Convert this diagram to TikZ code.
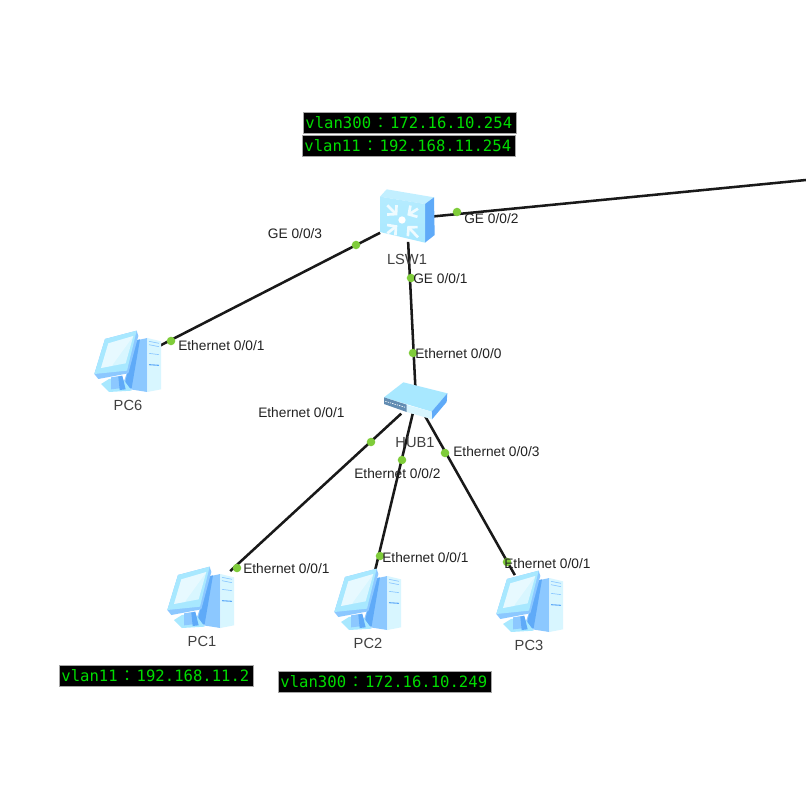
\documentclass[tikz,border=0pt]{standalone}
\usepackage{fontspec}
\setmainfont{Liberation Sans}
\newfontfamily\monof{DejaVu Sans Mono}
\newfontfamily\cjkf{Noto Sans CJK TC}
\usetikzlibrary{calc,arrows.meta}
\definecolor{dotg}{HTML}{7FCC3A}
\definecolor{pale}{HTML}{D8F6FF}
\definecolor{lite}{HTML}{A8E8FF}
\definecolor{midb}{HTML}{8CC8FF}
\definecolor{deep}{HTML}{5FAAF8}
\definecolor{ink}{HTML}{222222}
\definecolor{taggreen}{HTML}{00DD00}
\newcommand{\fwc}{\makebox[14.2pt][c]{\cjkf ：}}
\tikzset{
  x=0.75pt,y=-0.75pt,
  link/.style={draw=black!90,line width=1.9pt},
  dot/.style={circle,fill=dotg,inner sep=0pt,minimum size=6.4pt},
  port/.style={font=\fontsize{10.3pt}{12pt}\selectfont,text=ink,inner sep=0pt,yshift=-0.75pt},
  devname/.style={font=\fontsize{11pt}{13pt}\selectfont,text=black!75,inner sep=0pt},
  tag/.style={fill=black,draw=black!35,line width=0.6pt,text=taggreen,inner sep=0pt,
    font=\monof\fontsize{11.7pt}{13pt}\selectfont,minimum height=16pt,anchor=west},
  devbox/.style={inner sep=0pt,rectangle},
  pcbox/.style={devbox,minimum width=48pt,minimum height=40pt},
  swarrow/.style={pale!40!white,line width=2pt,line join=miter,-{Straight Barb[length=4.5pt,width=10pt,line width=2pt]}},
  pc/.pic={
    \begin{scope}[shift={(-43,-38)},scale=1/3]
      % tower
      \fill[midb] (150,50)--(187,42)--(187,204)--(110,192)--(128,140)--cycle;
      \fill[deep] (150,50)--(165,46)--(140,192)--(118,190)--(128,140)--cycle;
      \fill[pale] (187,42)--(228,52)--(228,196)--(187,204)--cycle;
      \draw[midb,line width=0.5pt] (192,52)--(222,58) (192,62)--(222,68) (192,88)--(222,92);
      \draw[deep,line width=0.8pt] (192,122)--(222,124);
      % stand and base
      \fill[lite] (48,180)--(72,165)--(110,160)--(140,200)--(72,204)--cycle;
      \fill[midb] (78,160)--(110,155)--(114,192)--(78,196)--cycle;
      \fill[deep] (100,158)--(112,155)--(122,196)--(104,198)--cycle;
      % monitor
      \fill[midb] (60,45)--(155,20)--(160,36)--(130,148)--(40,165)--(28,150)--cycle;
      \fill[lite] (60,45)--(155,20)--(126,140)--(28,150)--cycle;
      \fill[pale] (70,58)--(145,36)--(122,118)--(48,132)--cycle;
      \fill[white,opacity=.4] (70,58)--(145,36)--(80,126)--(48,132)--cycle;
    \end{scope}
  }
}
\begin{document}
\begin{tikzpicture}
\useasboundingbox (0,0) rectangle (806,805);
\fill[white] (0,0) rectangle (806,805);
% device anchors
\node[devbox,minimum width=40pt,minimum height=34pt] (LSW1) at (407,219) {};
\node[devbox,minimum width=46pt,minimum height=20pt] (HUB1) at (416,400) {};
\node[pcbox] (PC6) at (128,362) {};
\node[pcbox] (PC1) at (201,598) {};
\node[pcbox] (PC2) at (368,600) {};
\node[pcbox] (PC3) at (530,602) {};
\coordinate (east) at (806,180);
% connectors
\draw[link] (LSW1) -- (PC6);
\draw[link] (LSW1) -- (east);
\draw[link] (LSW1) -- (HUB1);
\draw[link] (HUB1) -- (PC1);
\draw[link] (HUB1) -- (PC2);
\draw[link] (HUB1) -- (PC3);
% port dots
\node[dot] (d1) at (356,245) {};
\node[dot] (d2) at (457,212) {};
\node[dot] (d3) at (411,278) {};
\node[dot] (d4) at (171,341) {};
\node[dot] (d5) at (413,353) {};
\node[dot] (d6) at (371,442) {};
\node[dot] (d7) at (402,460) {};
\node[dot] (d8) at (445,453) {};
\node[dot] (d9) at (237,568) {};
\node[dot] (d10) at (380,556) {};
\node[dot] (d11) at (507,562) {};
% switch icon
\begin{scope}[shift={(290,100)},scale=1/3]
  \fill[lite!70!white] (270,290)--(290,268)--(432,292)--(405,312)--cycle;
  \fill[deep] (405,312)--(432,292)--(434,405)--(405,428)--cycle;
  \shade[top color=lite!85!white,bottom color=lite] (270,290)--(405,312)--(405,428)--(270,396)--cycle;
  \draw[swarrow] (292,316)--(322,346);
  \draw[swarrow] (384,326)--(352,346);
  \draw[swarrow] (292,400)--(322,376);
  \draw[swarrow] (384,412)--(352,378);
  \fill[white] (336,360) circle (11);
\end{scope}
% hub icon
\begin{scope}[shift={(360,370)},scale=1/3]
  \fill[lite] (72,82)--(130,37)--(262,70)--(215,125)--cycle;
  \fill[deep] (215,125)--(262,70)--(260,96)--(216,148)--cycle;
  \fill[pale] (140,105)--(215,125)--(216,148)--(140,126)--cycle;
  \fill[midb!70!black] (72,82)--(140,104)--(140,126)--(72,102)--cycle;
  \draw[white,line width=0.5pt,dash pattern=on 1pt off 0.8pt] (76,94)--(136,112);
\end{scope}
% PCs
\pic at (PC6) {pc};
\pic at (PC1) {pc};
\pic at (PC2) {pc};
\pic at (PC3) {pc};
% names
\node[devname] (nLSW1) at (407,259) {LSW1};
\node[devname] (nHUB1) at (415,443) {HUB1};
\node[devname] (nPC6) at (128,405) {PC6};
\node[devname] (nPC1) at (202,641) {PC1};
\node[devname] (nPC2) at (368,643) {PC2};
\node[devname] (nPC3) at (529,645) {PC3};
% port labels
\node[port] (l1) at (295,233) {GE 0/0/3};
\node[port,anchor=west] (l2) at (464,218) {GE 0/0/2};
\node[port,anchor=west] (l3) at (413,278) {GE 0/0/1};
\node[port,anchor=west] (l4) at (178,345) {Ethernet 0/0/1};
\node[port,anchor=west] (l5) at (415,353) {Ethernet 0/0/0};
\node[port,anchor=west] (l6) at (258,412) {Ethernet 0/0/1};
\node[port,anchor=west] (l7) at (354,473) {Ethernet 0/0/2};
\node[port,anchor=west] (l8) at (453,451) {Ethernet 0/0/3};
\node[port,anchor=west] (l9) at (243,568) {Ethernet 0/0/1};
\node[port,anchor=west] (l10) at (382,557) {Ethernet 0/0/1};
\node[port,anchor=west] (l11) at (504,563) {Ethernet 0/0/1};
% address tags
\node[tag,minimum width=160pt,text width=160pt] (t1) at (303,123) {\hspace{1.5pt}vlan300\fwc 172.16.10.254};
\node[tag,minimum width=160pt,text width=160pt] (t2) at (302,146) {\hspace{1.5pt}vlan11\fwc 192.168.11.254};
\node[tag,minimum width=145.5pt,text width=145.5pt] (t3) at (59,676) {\hspace{1.5pt}vlan11\fwc 192.168.11.2};
\node[tag,minimum width=160pt,text width=160pt] (t4) at (278,682) {\hspace{1.5pt}vlan300\fwc 172.16.10.249};
\end{tikzpicture}
\end{document}
